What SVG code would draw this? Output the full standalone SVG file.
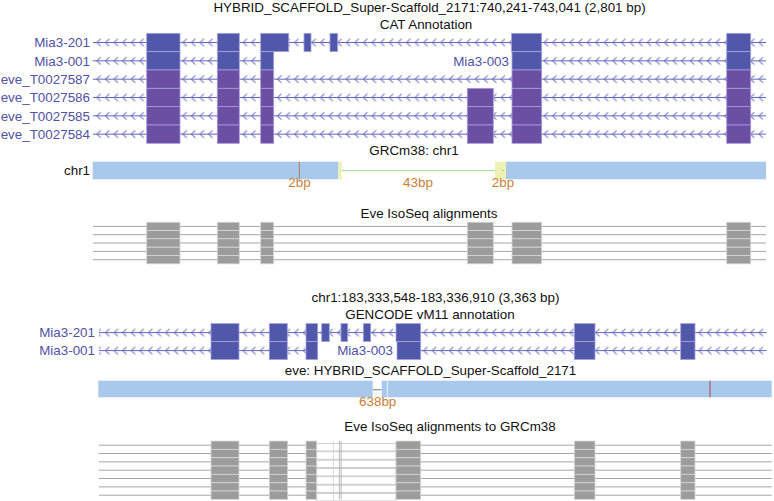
<svg xmlns="http://www.w3.org/2000/svg" xmlns:xlink="http://www.w3.org/1999/xlink" width="774" height="501" viewBox="0 0 774 501">
<style>
text{font-family:"Liberation Sans",Arial,sans-serif;font-size:13.4px;fill:#111}
.lbl{fill:#5252a4;text-anchor:end}
.ctr{text-anchor:middle}
.bp{fill:#c97f38;text-anchor:middle}
.tl{stroke:#6565b5;stroke-width:1}
.mia{fill:#5158aa;stroke:#a4a4de;stroke-width:0.8}
.eve{fill:#6a4fa3;stroke:#a89ade;stroke-width:0.8}
.gl{stroke:#a5a5a5;stroke-width:1}
.gb{fill:#9c9c9c;stroke:#d6d6d6;stroke-width:0.8}
</style>
<defs>
<pattern id="chev" patternUnits="userSpaceOnUse" x="0" y="-5" width="8.6" height="10">
<path d="M6.2 1.3 L2.2 5 L6.2 8.7" fill="none" stroke="#6c6cc4" stroke-width="1"/>
</pattern>
<g id="grow1">
<line class="gl" x1="93" y1="0" x2="766" y2="0"/>
<rect class="gb" x="146.7" y="-4.17" width="33.3" height="8.33"/>
<rect class="gb" x="217.3" y="-4.17" width="22" height="8.33"/>
<rect class="gb" x="260.7" y="-4.17" width="13" height="8.33"/>
<rect class="gb" x="467.3" y="-4.17" width="26" height="8.33"/>
<rect class="gb" x="512" y="-4.17" width="29.7" height="8.33"/>
<rect class="gb" x="726.7" y="-4.17" width="24" height="8.33"/>
</g>
<g id="grow2">
<line class="gl" x1="99" y1="0" x2="771.7" y2="0"/>
<rect class="gb" x="211" y="-4.17" width="28" height="8.33"/>
<rect class="gb" x="269.3" y="-4.17" width="18.4" height="8.33"/>
<rect class="gb" x="306" y="-4.17" width="10.7" height="8.33"/>
<rect x="316.7" y="-1.7" width="79.3" height="7.4" fill="#fff" stroke="#c4c4c4" stroke-width="0.8"/>
<rect class="gb" x="396" y="-4.17" width="24.7" height="8.33"/>
<rect class="gb" x="574.3" y="-4.17" width="20.7" height="8.33"/>
<rect class="gb" x="680.7" y="-4.17" width="14.3" height="8.33"/>
</g>
</defs>

<!-- Top section -->
<g id="top-title">
<text class="ctr" x="429.5" y="12">HYBRID_SCAFFOLD_Super-Scaffold_2171:740,241-743,041 (2,801 bp)</text>
<text class="ctr" x="426" y="29.3">CAT Annotation</text>
</g>

<g id="t-mia3-201" transform="translate(0,42.5)">
<text class="lbl" x="90" y="4.7">Mia3-201</text>
<line class="tl" x1="93" y1="0" x2="766" y2="0"/>
<rect x="93" y="-5" width="673" height="10" fill="url(#chev)"/>
<rect class="mia" x="146.7" y="-9.17" width="33.3" height="18.33"/>
<rect class="mia" x="217.3" y="-9.17" width="22" height="18.33"/>
<rect class="mia" x="260.7" y="-9.17" width="28" height="18.33"/>
<rect class="mia" x="304" y="-9.17" width="7" height="18.33"/>
<rect class="mia" x="330" y="-9.17" width="7.7" height="18.33"/>
<rect class="mia" x="511.5" y="-9.17" width="30.2" height="18.33"/>
<rect class="mia" x="726.7" y="-9.17" width="24" height="18.33"/>
</g>

<g id="t-mia3-001" transform="translate(0,60.83)">
<text class="lbl" x="90" y="4.7">Mia3-001</text>
<line class="tl" x1="93" y1="0" x2="273.7" y2="0"/>
<rect x="93" y="-5" width="180.7" height="10" fill="url(#chev)"/>
<rect class="mia" x="146.7" y="-9.17" width="33.3" height="18.33"/>
<rect class="mia" x="217.3" y="-9.17" width="22" height="18.33"/>
<rect class="mia" x="260.7" y="-9.17" width="13" height="18.33"/>
</g>

<g id="t-mia3-003" transform="translate(0,60.83)">
<text class="lbl" x="509" y="4.7">Mia3-003</text>
<line class="tl" x1="512" y1="0" x2="766" y2="0"/>
<rect x="512" y="-5" width="254" height="10" fill="url(#chev)"/>
<rect class="mia" x="512" y="-9.17" width="29.7" height="18.33"/>
<rect class="mia" x="726.7" y="-9.17" width="24" height="18.33"/>
</g>

<g id="t-eve87" transform="translate(0,79.17)">
<text class="lbl" x="90" y="4.7">eve_T0027587</text>
<line class="tl" x1="93" y1="0" x2="766" y2="0"/>
<rect x="93" y="-5" width="673" height="10" fill="url(#chev)"/>
<rect class="eve" x="146.7" y="-9.17" width="33.3" height="18.33"/>
<rect class="eve" x="217.3" y="-9.17" width="22" height="18.33"/>
<rect class="eve" x="260.7" y="-9.17" width="13" height="18.33"/>
<rect class="eve" x="512" y="-9.17" width="29.7" height="18.33"/>
<rect class="eve" x="726.7" y="-9.17" width="24" height="18.33"/>
</g>

<g id="t-eve86" transform="translate(0,97.5)">
<text class="lbl" x="90" y="4.7">eve_T0027586</text>
<line class="tl" x1="93" y1="0" x2="766" y2="0"/>
<rect x="93" y="-5" width="673" height="10" fill="url(#chev)"/>
<rect class="eve" x="146.7" y="-9.17" width="33.3" height="18.33"/>
<rect class="eve" x="217.3" y="-9.17" width="22" height="18.33"/>
<rect class="eve" x="260.7" y="-9.17" width="13" height="18.33"/>
<rect class="eve" x="467.3" y="-9.17" width="26" height="18.33"/>
<rect class="eve" x="512" y="-9.17" width="29.7" height="18.33"/>
<rect class="eve" x="726.7" y="-9.17" width="24" height="18.33"/>
</g>

<g id="t-eve85" transform="translate(0,115.83)">
<text class="lbl" x="90" y="4.7">eve_T0027585</text>
<line class="tl" x1="93" y1="0" x2="766" y2="0"/>
<rect x="93" y="-5" width="673" height="10" fill="url(#chev)"/>
<rect class="eve" x="146.7" y="-9.17" width="33.3" height="18.33"/>
<rect class="eve" x="217.3" y="-9.17" width="22" height="18.33"/>
<rect class="eve" x="260.7" y="-9.17" width="13" height="18.33"/>
<rect class="eve" x="467.3" y="-9.17" width="26" height="18.33"/>
<rect class="eve" x="512" y="-9.17" width="29.7" height="18.33"/>
<rect class="eve" x="726.7" y="-9.17" width="24" height="18.33"/>
</g>

<g id="t-eve84" transform="translate(0,134.17)">
<text class="lbl" x="90" y="4.7">eve_T0027584</text>
<line class="tl" x1="93" y1="0" x2="766" y2="0"/>
<rect x="93" y="-5" width="673" height="10" fill="url(#chev)"/>
<rect class="eve" x="146.7" y="-9.17" width="33.3" height="18.33"/>
<rect class="eve" x="217.3" y="-9.17" width="22" height="18.33"/>
<rect class="eve" x="260.7" y="-9.17" width="13" height="18.33"/>
<rect class="eve" x="467.3" y="-9.17" width="26" height="18.33"/>
<rect class="eve" x="512" y="-9.17" width="29.7" height="18.33"/>
<rect class="eve" x="726.7" y="-9.17" width="24" height="18.33"/>
</g>

<!-- GRCm38 chr1 track -->
<g id="chr1-track">
<text class="ctr" x="414" y="155">GRCm38: chr1</text>
<text x="64" y="175">chr1</text>
<rect x="92.7" y="161.7" width="245.6" height="17.6" fill="#a8c8ec"/>
<rect x="338.3" y="161.7" width="3.4" height="17.6" fill="#eef0b4"/>
<line x1="299.3" y1="161.7" x2="299.3" y2="179.3" stroke="#b07c52" stroke-width="1"/>
<line x1="341.7" y1="170.7" x2="495" y2="170.7" stroke="#a6d68c" stroke-width="1"/>
<rect x="495" y="161.7" width="11" height="17.6" fill="#eef0b4"/>
<circle cx="503" cy="170.5" r="0.5" fill="#a08050"/>
<rect x="506" y="161.7" width="260" height="17.6" fill="#a8c8ec"/>
<text class="bp" x="299.5" y="187">2bp</text>
<text class="bp" x="418" y="187">43bp</text>
<text class="bp" x="503" y="187">2bp</text>
</g>

<!-- Eve IsoSeq alignments -->
<g id="eve-isoseq">
<text class="ctr" x="429" y="218">Eve IsoSeq alignments</text>
<use xlink:href="#grow1" href="#grow1" y="226.4"/>
<use xlink:href="#grow1" href="#grow1" y="234.7"/>
<use xlink:href="#grow1" href="#grow1" y="243.0"/>
<use xlink:href="#grow1" href="#grow1" y="251.4"/>
<use xlink:href="#grow1" href="#grow1" y="259.7"/>
</g>

<!-- Bottom section -->
<g id="bottom-title">
<text class="ctr" x="435.5" y="302">chr1:183,333,548-183,336,910 (3,363 bp)</text>
<text class="ctr" x="430" y="319">GENCODE vM11 annotation</text>
</g>

<g id="b-mia3-201" transform="translate(0,332.6)">
<text class="lbl" x="95" y="4.7">Mia3-201</text>
<line class="tl" x1="99" y1="0" x2="766.7" y2="0"/>
<rect x="99" y="-5" width="667.7" height="10" fill="url(#chev)"/>
<rect class="mia" x="211" y="-9" width="28" height="18"/>
<rect class="mia" x="269.3" y="-9" width="18" height="18"/>
<rect class="mia" x="306" y="-9" width="11.7" height="18"/>
<rect class="mia" x="321.7" y="-9" width="7.6" height="18"/>
<rect class="mia" x="341" y="-9" width="6.7" height="18"/>
<rect class="mia" x="363.3" y="-9" width="7.4" height="18"/>
<rect class="mia" x="396" y="-9" width="24.7" height="18"/>
<rect class="mia" x="574.3" y="-9" width="20.7" height="18"/>
<rect class="mia" x="680.7" y="-9" width="14.3" height="18"/>
</g>

<g id="b-mia3-001" transform="translate(0,350.6)">
<text class="lbl" x="95" y="4.7">Mia3-001</text>
<line class="tl" x1="99" y1="0" x2="317.7" y2="0"/>
<rect x="99" y="-5" width="218.7" height="10" fill="url(#chev)"/>
<rect class="mia" x="211" y="-9" width="28" height="18"/>
<rect class="mia" x="269.3" y="-9" width="18" height="18"/>
<rect class="mia" x="306" y="-9" width="11.7" height="18"/>
</g>

<g id="b-mia3-003" transform="translate(0,350.6)">
<text class="lbl" x="393" y="4.7">Mia3-003</text>
<line class="tl" x1="397" y1="0" x2="766.7" y2="0"/>
<rect x="397" y="-5" width="369.7" height="10" fill="url(#chev)"/>
<rect class="mia" x="397" y="-9" width="23.7" height="18"/>
<rect class="mia" x="574.3" y="-9" width="20.7" height="18"/>
<rect class="mia" x="680.7" y="-9" width="14.3" height="18"/>
</g>

<g id="eve-scaffold-track">
<text class="ctr" x="430.5" y="375">eve: HYBRID_SCAFFOLD_Super-Scaffold_2171</text>
<rect x="98.3" y="380.7" width="274.4" height="16.6" fill="#a8c8ec"/>
<rect x="381.7" y="380.7" width="390" height="16.6" fill="#a8c8ec"/>
<line x1="373" y1="389.8" x2="381.5" y2="389.8" stroke="#777" stroke-width="1"/>
<line x1="387.3" y1="380.7" x2="387.3" y2="397.3" stroke="#fff" stroke-width="0.8"/>
<line x1="710" y1="380.7" x2="710" y2="397.3" stroke="#b0474a" stroke-width="1"/>
<text class="bp" x="377.7" y="406">638bp</text>
</g>

<g id="eve-isoseq-grcm38">
<text class="ctr" x="450" y="431">Eve IsoSeq alignments to GRCm38</text>
<use xlink:href="#grow2" href="#grow2" y="445.2"/>
<use xlink:href="#grow2" href="#grow2" y="453.5"/>
<use xlink:href="#grow2" href="#grow2" y="461.9"/>
<use xlink:href="#grow2" href="#grow2" y="470.2"/>
<use xlink:href="#grow2" href="#grow2" y="478.5"/>
<use xlink:href="#grow2" href="#grow2" y="486.9"/>
<use xlink:href="#grow2" href="#grow2" y="495.2"/>
<line x1="333.4" y1="441" x2="333.4" y2="499.4" stroke="#cfcfcf" stroke-width="0.8"/>
<line x1="339.4" y1="441" x2="339.4" y2="499.4" stroke="#aaa" stroke-width="0.8"/>
<line x1="341.2" y1="441" x2="341.2" y2="499.4" stroke="#aaa" stroke-width="0.8"/>
</g>
</svg>
